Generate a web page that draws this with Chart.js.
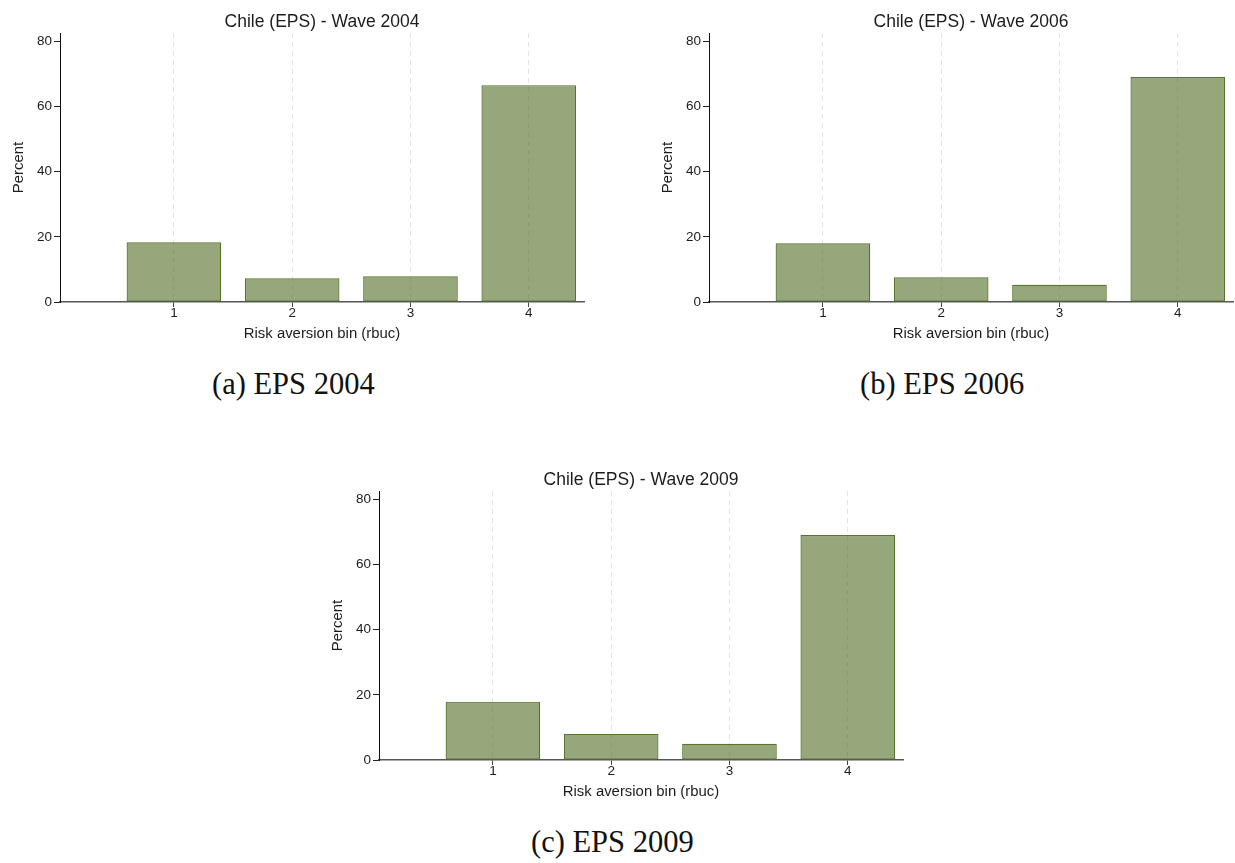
<!DOCTYPE html>
<html>
<head>
<meta charset="utf-8">
<title>Chile (EPS) risk aversion by wave</title>
<script src="https://cdn.jsdelivr.net/npm/chart.js@4.4.1/dist/chart.umd.min.js"></script>
<style>
  html, body { margin: 0; padding: 0; background: #ffffff; overflow: hidden; }
  body { width: 1235px; height: 863px; position: relative; }
  canvas { position: absolute; }
  .caption {
    position: absolute;
    font-family: "Liberation Serif", "DejaVu Serif", serif;
    font-size: 30.5px;
    line-height: 1;
    color: #111;
    white-space: nowrap;
  }
</style>
</head>
<body>
<canvas id="panelA" width="590" height="350" style="left:0px;top:0px"></canvas>
<canvas id="panelB" width="590" height="350" style="left:649px;top:0px"></canvas>
<canvas id="panelC" width="590" height="350" style="left:319px;top:458px"></canvas>
<div class="caption" style="left:212px;top:369px">(a) EPS 2004</div>
<div class="caption" style="left:860px;top:369px">(b) EPS 2006</div>
<div class="caption" style="left:531px;top:827px">(c) EPS 2009</div>

<script>
// Risk aversion bins (rbuc) and the share of respondents in each, per survey wave
const bins = [1, 2, 3, 4];
const pct2004 = [18.3, 7.3, 7.9, 66.5];
const pct2006 = [18.0, 7.6, 5.3, 69.0];
const pct2009 = [17.9, 8.0, 5.0, 69.0];
const yTicks = [0, 20, 40, 60, 80];

const titleA = 'Chile (EPS) - Wave 2004';
const titleB = 'Chile (EPS) - Wave 2006';
const titleC = 'Chile (EPS) - Wave 2009';
const xTitle = 'Risk aversion bin (rbuc)';
const yTitle = 'Percent';

const SANS = '"Liberation Sans", Arial, Helvetica, sans-serif';
const TEXT = '#1c1c1c';

// Title centred over the plotting region
const panelTitle = {
  id: 'panelTitle',
  afterDraw(chart, args, opts) {
    const { ctx, chartArea } = chart;
    ctx.save();
    ctx.font = opts.size + 'px ' + SANS;
    ctx.fillStyle = TEXT;
    ctx.textAlign = 'center';
    ctx.textBaseline = 'alphabetic';
    ctx.fillText(opts.text, (chartArea.left + chartArea.right) / 2, opts.y);
    ctx.restore();
  }
};

function makePanel(id, title, values) {
  return new Chart(document.getElementById(id), {
    type: 'bar',
    data: {
      datasets: [{
        data: bins.map((b, i) => ({ x: b, y: values[i] })),
        backgroundColor: 'rgba(80, 110, 35, 0.6)',
        borderColor: 'rgb(86, 116, 44)',
        borderWidth: 1.2,
        borderSkipped: false,
        barPercentage: 0.8,
        categoryPercentage: 1.0
      }]
    },
    options: {
      responsive: false,
      animation: false,
      devicePixelRatio: 1,
      layout: { padding: { top: 33, right: 6, left: 0, bottom: 0 } },
      plugins: {
        legend: { display: false },
        tooltip: { enabled: false },
        panelTitle: { text: title, size: 17.5, y: 26.5 }
      },
      scales: {
        x: {
          type: 'linear',
          min: 0.037,
          max: 4.467,
          offset: false,
          afterBuildTicks: s => { s.ticks = bins.map(v => ({ value: v })); },
          afterFit: s => { s.height = 48; },
          grid: {
            offset: false,
            drawOnChartArea: true,
            color: '#e4e4e4',
            lineWidth: 1,
            drawTicks: true,
            tickLength: 5,
            tickColor: '#444',
            tickWidth: 1
          },
          border: { display: true, color: '#555', width: 1.5, dash: [5, 4] },
          ticks: {
            color: TEXT,
            font: { family: SANS, size: 13.5 },
            padding: -2,
            autoSkip: false,
            maxRotation: 0
          },
          title: {
            display: true,
            text: xTitle,
            color: TEXT,
            font: { family: SANS, size: 14.9 },
            padding: { top: 0, bottom: 7 }
          }
        },
        y: {
          min: 0,
          max: 82.5,
          afterBuildTicks: s => { s.ticks = yTicks.map(v => ({ value: v })); },
          afterFit: s => { s.width = 60; },
          grid: {
            drawOnChartArea: false,
            drawTicks: true,
            tickLength: 6,
            tickColor: '#222',
            tickWidth: 1
          },
          border: { display: true, color: '#111', width: 1 },
          ticks: {
            color: TEXT,
            font: { family: SANS, size: 13.5 },
            padding: 2
          },
          title: {
            display: true,
            text: yTitle,
            color: TEXT,
            font: { family: SANS, size: 14.9 },
            padding: { top: 9.5, bottom: 0 }
          }
        }
      }
    },
    plugins: [panelTitle]
  });
}

makePanel('panelA', titleA, pct2004);
makePanel('panelB', titleB, pct2006);
makePanel('panelC', titleC, pct2009);
</script>
</body>
</html>
